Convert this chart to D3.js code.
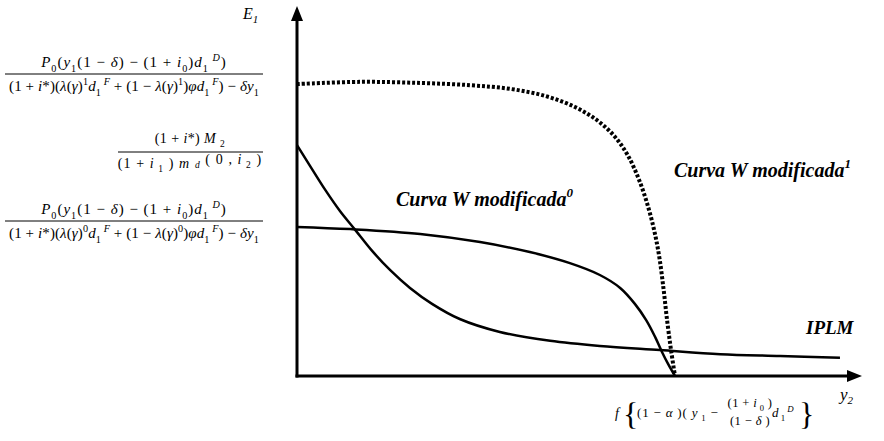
<!DOCTYPE html>
<html>
<head>
<meta charset="utf-8">
<script src="https://cdn.jsdelivr.net/npm/d3@7"></script>
<style>
  html, body { margin: 0; padding: 0; background: #fff; }
  svg { display: block; }
</style>
</head>
<body>
<svg id="chart" width="884" height="441"></svg>
<script>
// Curve coordinates in chart units (x: y2 axis 0–100, y: E1 axis 0–100)
const curveW1X = [0, 11.2, 21.8, 30.6, 37.7, 43.9, 49.2, 53.3, 56.3, 58.6, 60.7, 62.3, 63.4, 64.2, 64.9, 65.5, 66.2, 66.9];
const curveW1Y = [78.9, 79.5, 79.2, 78.6, 77.6, 75.7, 72.7, 68.9, 64.6, 59.5, 52.4, 44.9, 38.1, 31.4, 23.2, 15.1, 7.0, 0];

const curveW0X = [0, 9.4, 21.8, 32.4, 41.2, 48.3, 53.6, 57.2, 59.8, 61.8, 63.4, 64.6, 65.7, 66.9];
const curveW0Y = [40.3, 39.7, 38.4, 36.2, 33.5, 30.5, 27.3, 23.8, 19.5, 15.1, 10.5, 6.5, 3.2, 0];

const iplmX = [0, 2.3, 5.0, 7.6, 10.3, 13.3, 16.5, 20.0, 23.9, 28.8, 35.9, 44.8, 53.6, 64.2, 74.9, 85.5, 96.1];
const iplmY = [62.4, 56.8, 50.3, 44.6, 39.5, 33.8, 28.6, 23.8, 19.5, 15.4, 11.9, 9.5, 8.1, 7.0, 5.9, 5.4, 4.9];

// Curve labels
const curveLabels = [
  { text: "Curva W modificada", sup: "1" },
  { text: "Curva W modificada", sup: "0" },
  { text: "IPLM", sup: "" }
];

// Expressions shown next to the E1 axis (numerator / denominator)
const axisFractions = [
  ["P_{0}(y_{1}(1 − δ) − (1 + i_{0})d_{1}^{ D})",
   "(1 + i*)(λ(γ)^{1}d_{1}^{ F} + (1 − λ(γ)^{1})φd_{1}^{ F}) − δy_{1}"],
  ["(1  +  i*)  M _{ 2}",
   "(1  +  i_{ 1} ) m _{ d} ( 0 , i_{ 2} )"],
  ["P_{0}(y_{1}(1 − δ) − (1 + i_{0})d_{1}^{ D})",
   "(1 + i*)(λ(γ)^{0}d_{1}^{ F} + (1 − λ(γ)^{0})φd_{1}^{ F}) − δy_{1}"]
];

const svg = d3.select("#chart");
const serif = "'Liberation Serif', 'Times New Roman', serif";

const x = d3.scaleLinear().domain([0, 100]).range([297, 862]);
const y = d3.scaleLinear().domain([0, 100]).range([376, 6]);

// Writes a small math string into a <text>: _{..} subscript, ^{..} superscript,
// letters set in italic.
function typeset(textSel, src, size) {
  const segs = [];
  let i = 0, buf = "";
  while (i < src.length) {
    const c = src[i];
    if ((c === "_" || c === "^") && src[i + 1] === "{") {
      if (buf) { segs.push({ t: buf, m: 0 }); buf = ""; }
      const end = src.indexOf("}", i);
      segs.push({ t: src.slice(i + 2, end), m: c === "_" ? 1 : -1 });
      i = end + 1;
    } else { buf += c; i++; }
  }
  if (buf) segs.push({ t: buf, m: 0 });
  let cur = 0;
  segs.forEach(s => {
    const runs = s.t.match(/[A-Za-zα-ωδλγφ]+|[^A-Za-zα-ωδλγφ]+/g) || [];
    const target = s.m === 1 ? size * 0.3 : s.m === -1 ? -size * 0.42 : 0;
    runs.forEach(r => {
      const ts = textSel.append("tspan").text(r)
        .attr("font-size", s.m ? size * 0.68 : size)
        .attr("font-style", /[A-Za-zα-ωδλγφ]/.test(r) ? "italic" : "normal");
      if (target !== cur) { ts.attr("dy", target - cur); cur = target; }
    });
  });
  return textSel;
}

function fraction(g, cx, lineY, x1, x2, num, den, size, gapN, gapD, spN, spD) {
  typeset(g.append("text").attr("x", cx).attr("y", lineY - gapN)
    .attr("text-anchor", "middle").attr("font-family", serif)
    .attr("letter-spacing", spN), num, size);
  g.append("line").attr("x1", x1).attr("x2", x2).attr("y1", lineY).attr("y2", lineY)
    .attr("stroke", "#000").attr("stroke-width", 1);
  typeset(g.append("text").attr("x", cx).attr("y", lineY + gapD)
    .attr("text-anchor", "middle").attr("font-family", serif)
    .attr("letter-spacing", spD), den, size);
}

// Axes with arrow heads
const axes = svg.append("g");
axes.append("line").attr("x1", x(0)).attr("x2", x(0)).attr("y1", y(0) + 1.5).attr("y2", y(100) + 12)
  .attr("stroke", "#000").attr("stroke-width", 3);
axes.append("line").attr("x1", x(0) - 1.5).attr("x2", x(100) - 12).attr("y1", y(0)).attr("y2", y(0))
  .attr("stroke", "#000").attr("stroke-width", 3);
axes.append("path")
  .attr("d", `M${x(0)},${y(100)} L${x(0) - 6},${y(100) + 15} L${x(0) + 6},${y(100) + 15} Z`)
  .attr("fill", "#000");
axes.append("path")
  .attr("d", `M${x(100)},${y(0)} L${x(100) - 15},${y(0) - 6} L${x(100) - 15},${y(0) + 6} Z`)
  .attr("fill", "#000");

// Curves
const line = d3.line().x(d => x(d[0])).y(d => y(d[1])).curve(d3.curveCatmullRom.alpha(0.5));
const zip = (a, b) => a.map((v, i) => [v, b[i]]);

svg.append("path").datum(zip(iplmX, iplmY)).attr("d", line)
  .attr("fill", "none").attr("stroke", "#000").attr("stroke-width", 2.5);
svg.append("path").datum(zip(curveW0X, curveW0Y)).attr("d", line)
  .attr("fill", "none").attr("stroke", "#000").attr("stroke-width", 2.5);
svg.append("path").datum(zip(curveW1X, curveW1Y)).attr("d", line)
  .attr("fill", "none").attr("stroke", "#000").attr("stroke-width", 4)
  .attr("stroke-dasharray", "3,2");

// Curve labels
const labelPos = [[674, 177], [396, 206], [806, 334]];
const labelSize = [20, 20, 19];
curveLabels.forEach((l, i) => {
  const t = svg.append("text").attr("x", labelPos[i][0]).attr("y", labelPos[i][1])
    .attr("font-family", serif).attr("font-weight", "bold").attr("font-style", "italic")
    .attr("font-size", labelSize[i]).text(l.text);
  if (l.sup) t.append("tspan").attr("dy", -9).attr("font-size", 13).text(l.sup);
});

// Axis titles
const e1 = svg.append("text").attr("x", 243).attr("y", 19).attr("font-family", serif)
  .attr("font-style", "italic").attr("font-size", 16).text("E");
e1.append("tspan").attr("dy", 4).attr("font-size", 11).text("1");
const y2 = svg.append("text").attr("x", 840).attr("y", 400).attr("font-family", serif)
  .attr("font-style", "italic").attr("font-size", 17).text("y");
y2.append("tspan").attr("dy", 4).attr("font-size", 11).text("2");

// Expressions beside the E1 axis
const fr = svg.append("g");
fraction(fr, 134, 74, 5, 263, axisFractions[0][0], axisFractions[0][1], 15, 7, 17, 1, 0.1);
fraction(fr, 190, 152, 118, 263, axisFractions[1][0], axisFractions[1][1], 14, 9, 16, 0.4, 1.1);
fraction(fr, 134, 221, 5, 263, axisFractions[2][0], axisFractions[2][1], 15, 7, 17, 1, 0.1);

// Expression under the y2 axis
const bx = svg.append("g").attr("font-family", serif);
bx.append("text").attr("x", 615).attr("y", 418).attr("font-style", "italic").attr("font-size", 14).text("f");
bx.append("text").attr("x", 623).attr("y", 425).attr("font-size", 32).attr("font-weight", "300").text("{");
typeset(bx.append("text").attr("x", 637).attr("y", 417).attr("font-family", serif)
  .attr("letter-spacing", 0.8), "(1 − α )( y_{ 1}  −", 13);
typeset(bx.append("text").attr("x", 750).attr("y", 407).attr("text-anchor", "middle").attr("font-family", serif)
  .attr("letter-spacing", 0.4), "(1 + i_{ 0} )", 12.5);
typeset(bx.append("text").attr("x", 750).attr("y", 425).attr("text-anchor", "middle").attr("font-family", serif)
  .attr("letter-spacing", 0.4), "(1 − δ )", 12.5);
typeset(bx.append("text").attr("x", 772).attr("y", 417).attr("font-family", serif),
  "d_{ 1}^{ D}", 13);
bx.append("text").attr("x", 799).attr("y", 425).attr("font-size", 32).attr("font-weight", "300").text("}");
</script>
</body>
</html>
